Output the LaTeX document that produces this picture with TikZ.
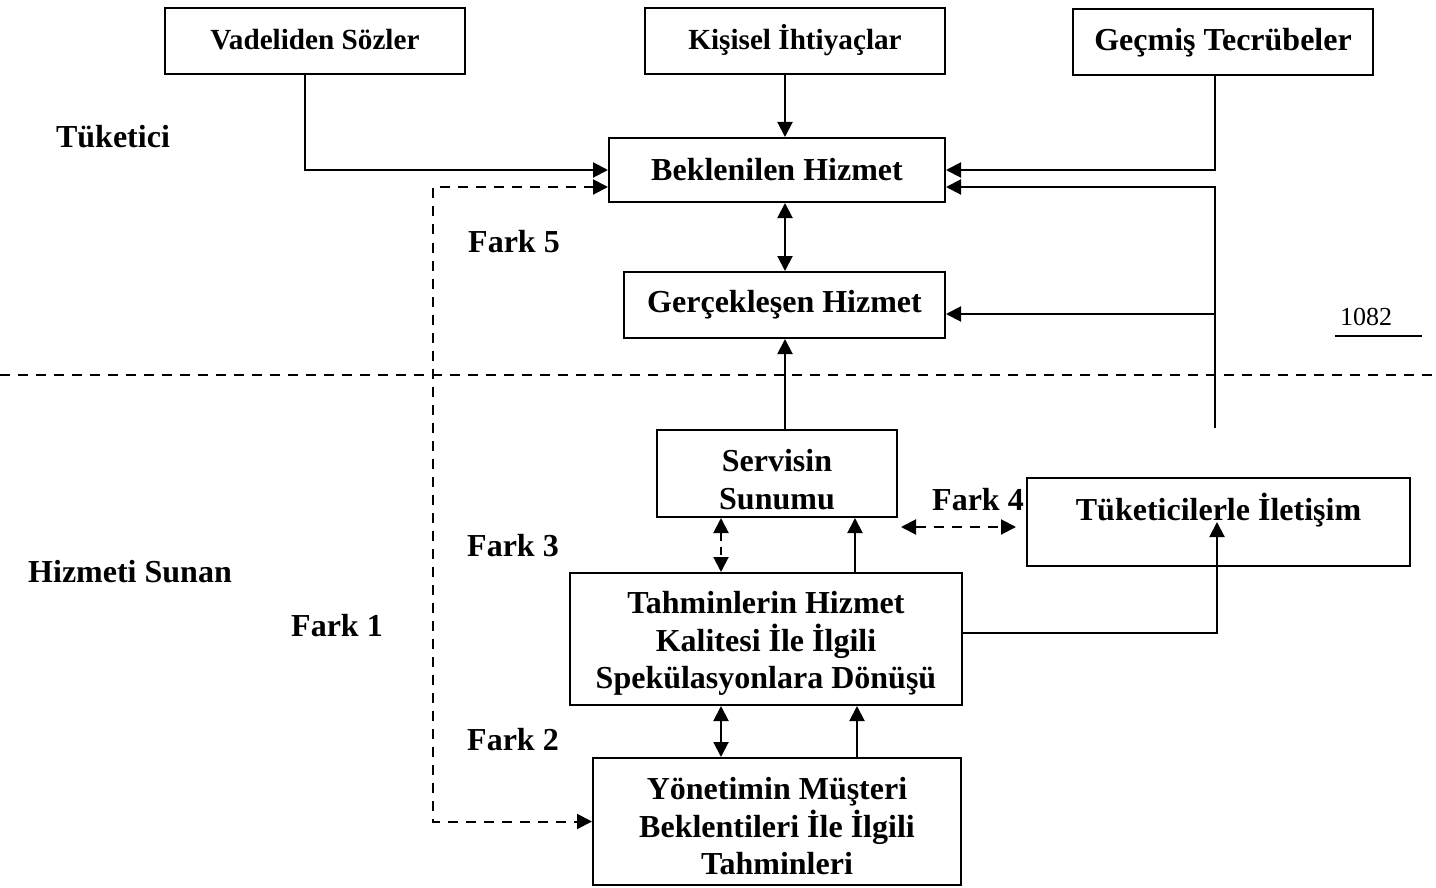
\documentclass[tikz,border=0pt]{standalone}
\usepackage{fontspec}
\setmainfont{Liberation Serif}
\usetikzlibrary{arrows.meta}
\tikzset{
  box/.style={draw, line width=1pt, inner sep=0pt, align=center, font=\fontsize{16}{18.8}\selectfont\bfseries},
  sbox/.style={box, font=\fontsize{14.6}{17}\selectfont\bfseries},
  lbl/.style={inner sep=0pt, font=\fontsize{16}{18.8}\selectfont\bfseries},
  arr/.style={line width=1pt, -{Triangle[length=7.5pt,width=7.5pt]}},
  darr/.style={line width=1pt, {Triangle[length=7.5pt,width=7.5pt]}-{Triangle[length=7.5pt,width=7.5pt]}},
  dsh/.style={dash pattern=on 5pt off 4pt},
  plain/.style={line width=1pt}
}
\newcommand{\lnstrut}[1]{\rule{0pt}{#1}}
\begin{document}
\begin{tikzpicture}[x=0.5pt,y=-0.5pt]
\useasboundingbox (0,0) rectangle (1436,888);
% boxes
\node[sbox, minimum width=150pt, minimum height=33pt, text height=10pt, text depth=1.5pt] (vad) at (315,41) {Vadeliden Sözler};
\node[sbox, minimum width=150pt, minimum height=33pt, text height=10pt, text depth=1pt] (kis) at (795,41) {Kişisel İhtiyaçlar};
\node[box, minimum width=150pt, minimum height=33pt, text height=10pt, text depth=1.9pt] (gec) at (1223,42) {Geçmiş Tecrübeler};
\node[box, minimum width=168pt, minimum height=32pt] (bek) at (777,170) {Beklenilen Hizmet};
\node[box, minimum width=160.5pt, minimum height=33pt] (ger) at (784.5,305) {Gerçekleşen Hizmet};
\node[box, minimum width=120pt, minimum height=43.5pt] (ser) at (777,473.5) {\lnstrut{17pt}Servisin\\Sunumu};
\node[box, minimum width=191.5pt, minimum height=44pt, text height=11pt, text depth=13pt] (tuk) at (1218.5,522) {Tüketicilerle İletişim};
\node[box, minimum width=196pt, minimum height=66pt] (tah) at (766,639) {\lnstrut{15.5pt}Tahminlerin Hizmet\\Kalitesi İle İlgili\\Spekülasyonlara Dönüşü};
\node[box, minimum width=184pt, minimum height=63.5pt] (yon) at (777,821.5) {\lnstrut{16pt}Yönetimin Müşteri\\Beklentileri İle İlgili\\Tahminleri};
% labels
\node[lbl] (tuketici) at (113,137) {Tüketici};
\node[lbl] (sunan) at (130,572) {Hizmeti Sunan};
\node[lbl] (f5) at (514,242) {Fark 5};
\node[lbl] (f4) at (978,500) {Fark 4};
\node[lbl] (f3) at (513,546) {Fark 3};
\node[lbl] (f1) at (337,626) {Fark 1};
\node[lbl] (f2) at (513,740) {Fark 2};
\node[inner sep=0pt, font=\fontsize{13}{15}\selectfont] (num) at (1366,317) {1082};
\coordinate (ulA) at (1335,336);
\coordinate (ulB) at (1422,336);
\draw[plain] (ulA) -- (ulB);
% separator
\coordinate (sepL) at (0,375);
\coordinate (sepR) at (1436,375);
\draw[plain, dsh] (sepL) -- (sepR);
% top connectors
\draw[arr] ([xshift=-5pt]vad.south) |- (bek.west);
\draw[arr] ([xshift=-5pt]kis.south) -- ([xshift=-5pt]kis.south |- bek.north);
\draw[arr] ([xshift=-4pt]gec.south) |- (bek.east);
\coordinate (r) at (1215,428);
\draw[arr] (r) |- ([yshift=-8.5pt]bek.east);
\coordinate (gerin) at ([yshift=-4.5pt]ger.east);
\draw[arr] (r |- gerin) -- (gerin);
\draw[darr] ([xshift=4pt]bek.south) -- ([xshift=4pt]bek.south |- ger.north);
\draw[arr] ([xshift=4pt]ser.north) -- ([xshift=4pt]ser.north |- ger.south);
% lower connectors
\draw[darr, dash pattern=on 4pt off 3pt] ([xshift=-28pt]ser.south) -- ([xshift=-28pt]ser.south |- tah.north);
\draw[arr] ([xshift=39pt]ser.south |- tah.north) -- ([xshift=39pt]ser.south);
\coordinate (f4b) at ([xshift=-5pt,yshift=-2.5pt]tuk.west);
\coordinate (f4a) at ([xshift=1.5pt]ser.east |- f4b);
\draw[darr, dsh] (f4a) -- (f4b);
\coordinate (tukin) at ([xshift=-0.75pt]tuk.center);
\draw[arr] ([yshift=3pt]tah.east) -| (tukin);
\draw[darr] ([xshift=-28pt]yon.north) -- ([xshift=-28pt]yon.north |- tah.south);
\draw[arr] ([xshift=40pt]yon.north) -- ([xshift=40pt]yon.north |- tah.south);
\coordinate (loop) at (433,500);
\draw[darr, dsh] ([yshift=-8.5pt]bek.west) -| (loop) |- (yon.west);
\end{tikzpicture}
\end{document}
